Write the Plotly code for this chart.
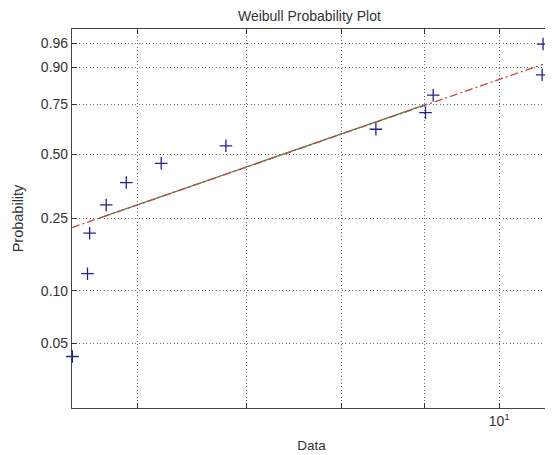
import numpy as np
import plotly.graph_objects as go

# ---- data ----
data_x = [5.469, 5.587, 5.604, 5.737, 5.902, 6.201, 6.795, 8.400, 9.011, 9.109, 10.626, 10.64]
data_p = [0.0417, 0.125, 0.2083, 0.2917, 0.375, 0.4583, 0.5417, 0.625, 0.7083, 0.7917, 0.875, 0.9583]

# reference line (dash-dot over full range, solid between quartile levels)
fit_x = [5.466, 10.64]
fit_p = [0.2230, 0.9097]
quart_x = [5.68, 9.03]
quart_p = [0.25, 0.75]

prob_ticks = [0.05, 0.10, 0.25, 0.50, 0.75, 0.90, 0.96]
prob_labels = ["0.05", "0.10", "0.25", "0.50", "0.75", "0.90", "0.96"]
x_grid = [6, 7, 8, 9, 10]
x_labels = ["", "", "", "", "10<sup>1</sup>"]

x_range = [5.466, 10.76]
p_range = [0.0207, 0.98]


def wtr(p):
    p = np.asarray(p, dtype=float)
    return np.log(-np.log(1 - p))


fig = go.Figure()
fig.add_trace(go.Scatter(x=quart_x, y=wtr(quart_p), mode="lines",
                         line=dict(color="rgb(70,140,70)", width=1.3),
                         showlegend=False, hoverinfo="skip"))
fig.add_trace(go.Scatter(x=fit_x, y=wtr(fit_p), mode="lines",
                         line=dict(color="rgb(200,70,70)", width=1.3, dash="8px,3px,2px,3px"),
                         showlegend=False, hoverinfo="skip"))
fig.add_trace(go.Scatter(x=data_x, y=wtr(data_p), mode="markers",
                         marker=dict(symbol="cross-thin", size=9,
                                     line=dict(color="rgb(35,35,140)", width=1.3)),
                         showlegend=False, cliponaxis=False))

font_col = "#333333"
grid_col = "rgba(60,60,60,0.75)"
fig.update_layout(
    width=545, height=447,
    margin=dict(l=64, r=2, t=21, b=47, autoexpand=False),
    paper_bgcolor="white", plot_bgcolor="white",
    font=dict(family="Liberation Sans, Arial, sans-serif", size=14, color=font_col),
    title=dict(text="Weibull Probability Plot", x=0.553, xanchor="center",
               y=0.982, yanchor="middle", font=dict(size=14, color=font_col)),
)
fig.update_xaxes(
    type="log", range=[np.log10(x_range[0]), np.log10(x_range[1])],
    tickvals=x_grid, ticktext=x_labels, automargin=False,
    ticks="inside", ticklen=5, tickcolor="#333", mirror="ticks",
    showline=True, linecolor="#444", linewidth=1.2,
    showgrid=True, gridcolor=grid_col, griddash="1px,2.5px", gridwidth=1,
    zeroline=False,
    title=dict(text="Data", standoff=12, font=dict(size=13.5)),
    tickfont=dict(size=14),
)
fig.update_yaxes(
    range=list(wtr(p_range)), automargin=False,
    tickvals=list(wtr(prob_ticks)), ticktext=prob_labels,
    ticks="inside", ticklen=5, tickcolor="#333", mirror="ticks",
    showline=True, linecolor="#444", linewidth=1.2,
    showgrid=True, gridcolor=grid_col, griddash="1px,2.5px", gridwidth=1,
    zeroline=False,
    title=dict(text="Probability", standoff=13, font=dict(size=14.5)),
    tickfont=dict(size=14),
)

fig.write_html("out.html")
